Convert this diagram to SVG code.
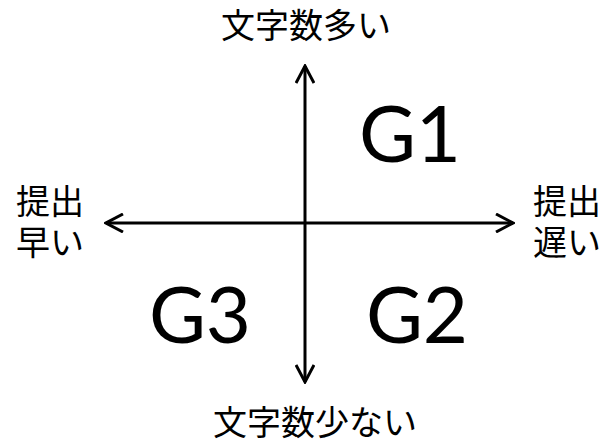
<svg xmlns="http://www.w3.org/2000/svg" width="616" height="443" viewBox="0 0 616 443">
<style>
.jp{font-family:"Noto Sans CJK JP","Noto Sans",sans-serif;font-size:34px;fill:#000}
.g{font-family:Lato,"Liberation Sans",Arial,sans-serif;font-size:78px;fill:#000}
.ax{stroke:#000;stroke-width:3;fill:none}
</style>
<defs>
<marker id="ah" viewBox="0 0 20 20" refX="18" refY="10" markerWidth="20" markerHeight="20" markerUnits="userSpaceOnUse" orient="auto">
<path d="M1,1 L18,10 L1,19" fill="none" stroke="#000" stroke-width="3"/>
</marker>
</defs>
<rect width="616" height="443" fill="#fff"/>
<g id="connectors">
<line class="ax" x1="305" y1="223" x2="305" y2="66" marker-end="url(#ah)"/>
<line class="ax" x1="305" y1="223" x2="305" y2="382" marker-end="url(#ah)"/>
<line class="ax" x1="305" y1="223" x2="106" y2="223" marker-end="url(#ah)"/>
<line class="ax" x1="305" y1="223" x2="513" y2="223" marker-end="url(#ah)"/>
</g>
<g id="top"><text class="jp" x="306" y="38" text-anchor="middle">文字数多い</text></g>
<g id="bottom"><text class="jp" x="315" y="435" text-anchor="middle">文字数少ない</text></g>
<g id="left"><text class="jp" text-anchor="middle"><tspan x="50" y="214">提出</tspan><tspan x="50" y="255">早い</tspan></text></g>
<g id="right"><text class="jp" text-anchor="middle"><tspan x="567" y="214">提出</tspan><tspan x="567" y="255">遅い</tspan></text></g>
<g id="g1"><text class="g" x="410" y="162" text-anchor="middle">G1</text></g>
<g id="g2"><text class="g" x="417" y="343" text-anchor="middle">G2</text></g>
<g id="g3"><text class="g" x="200" y="343" text-anchor="middle">G3</text></g>
</svg>
